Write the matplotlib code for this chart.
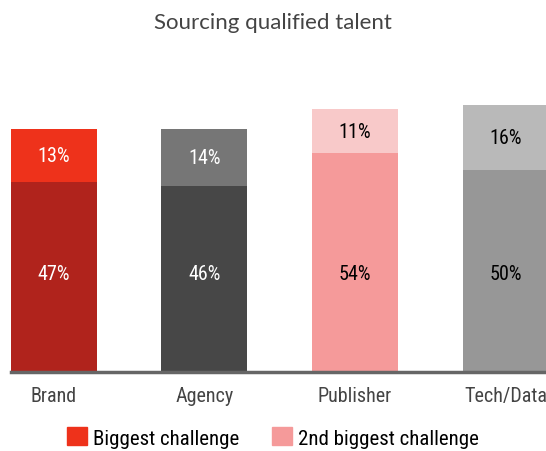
import matplotlib
matplotlib.use("Agg")
import matplotlib.pyplot as plt
from matplotlib.patches import Patch

# Data.
categories = ["Brand", "Agency", "Publisher", "Tech/Data"]
biggest = [47, 46, 54, 50]
second = [13, 14, 11, 16]
bottomColors = ["#b0231c", "#474747", "#f59a9a", "#979797"]
topColors = ["#ee321b", "#767676", "#f8c9c9", "#b9b9b9"]
textColors = ["white", "white", "black", "black"]

plt.rcParams["font.family"] = ["Roboto Condensed", "Liberation Sans Narrow", "DejaVu Sans"]

fig = plt.figure(figsize=(5.46, 4.52), dpi=100)
ax = fig.add_axes([0, 1 - 373 / 452, 1, 373 / 452])

x = range(len(categories))
width = 0.57
ax.bar(x, biggest, width, color=bottomColors, linewidth=0)
ax.bar(x, second, width, bottom=biggest, color=topColors, linewidth=0)

# Labels: bottom ones sit on one common line, top ones centred in the segment.
for i in x:
  ax.text(i, 24.3, f"{biggest[i]}%", ha="center", va="center",
          color=textColors[i], fontsize=14.5)
  ax.text(i, biggest[i] + second[i] / 2, f"{second[i]}%", ha="center", va="center",
          color=textColors[i], fontsize=14.5)

ax.set_xlim(-0.356, 3.267)
ax.set_ylim(0, 373 / 4.05)
for s in ["top", "right", "left"]:
  ax.spines[s].set_visible(False)
ax.spines["bottom"].set_color("#666666")
ax.spines["bottom"].set_linewidth(2.5)
ax.spines["bottom"].set_bounds(-width / 2, 3.5)
ax.set_yticks([])
ax.set_xticks(list(x))
ax.set_xticklabels(categories, fontsize=14.5, color="#444444")
ax.tick_params(axis="x", length=0, pad=10)

fig.text(0.5, 1 - 23 / 452, "Sourcing qualified talent", ha="center", va="center",
         fontsize=16, color="#444444", family=["Lato", "DejaVu Sans"])

handles = [Patch(color="#ee321b"), Patch(color="#f59a9a")]
fig.legend(handles, ["Biggest challenge", "2nd biggest challenge"], ncol=2,
           loc="upper center", bbox_to_anchor=(0.5, 1 - 418 / 452), frameon=False,
           fontsize=15, handlelength=0.95, handleheight=0.95, handletextpad=0.3,
           columnspacing=1.6, borderpad=0, labelcolor="black")

fig.savefig("out.png", dpi=100)
